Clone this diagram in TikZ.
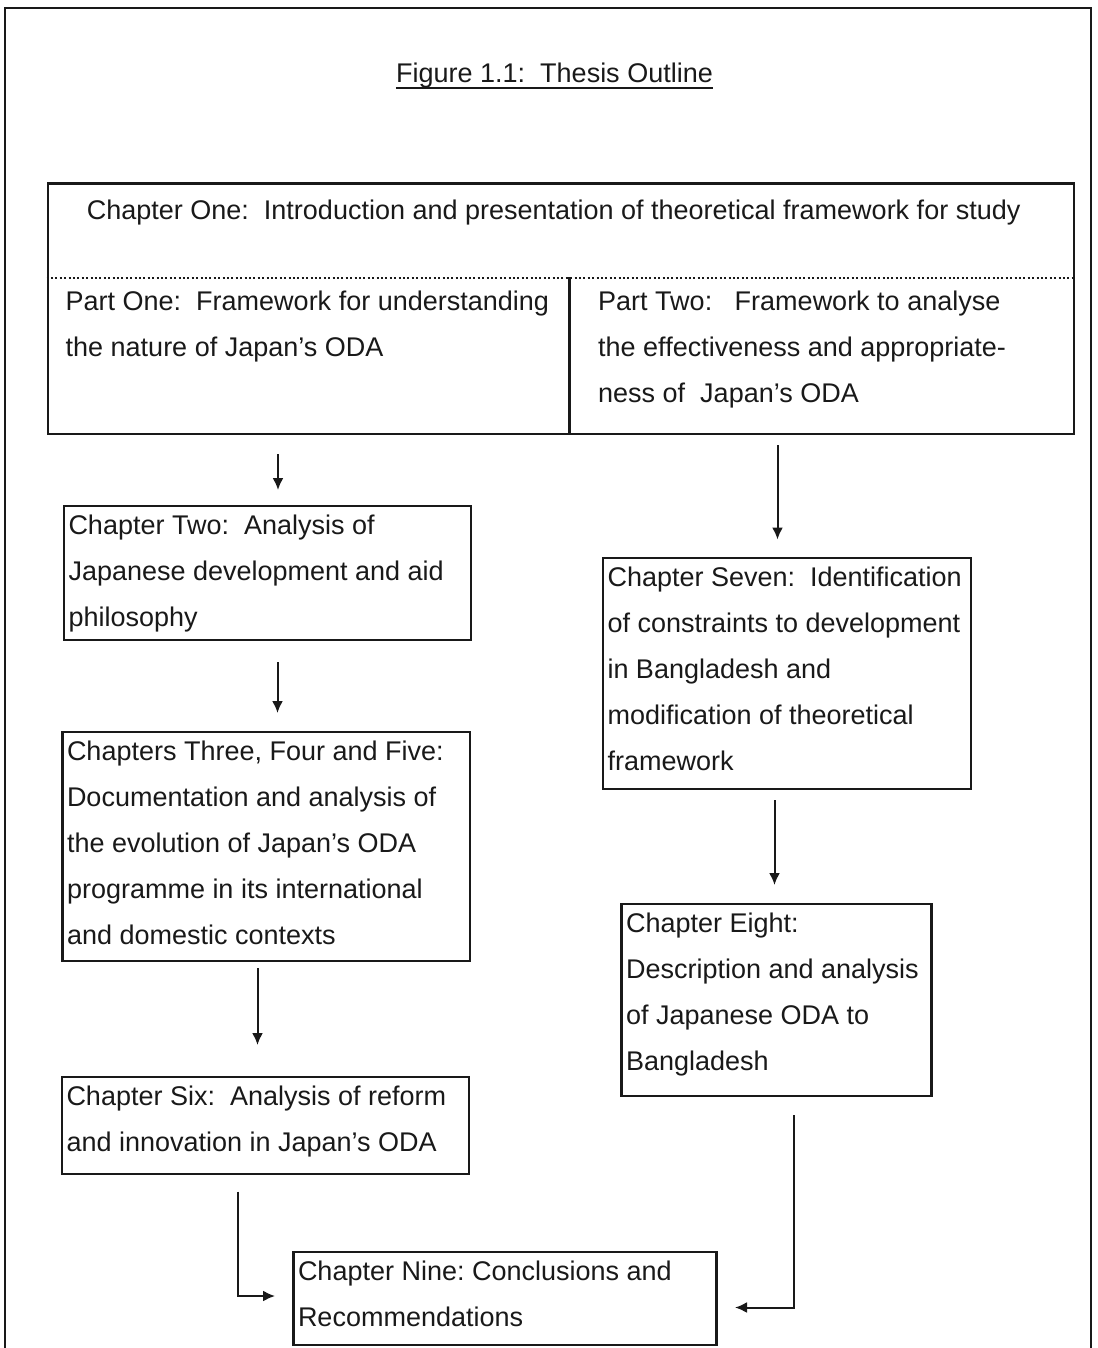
\documentclass[tikz,border=0pt]{standalone}
\usepackage{fontspec}
\setmainfont{Liberation Sans}
\usetikzlibrary{arrows.meta,calc}
\definecolor{ink}{RGB}{25,25,25}
\frenchspacing
\newcommand\mystrut{\rule[-6pt]{0pt}{20pt}}
\newcommand\boxtxt[3]{\parbox[t][#2][t]{#1}{\fontsize{27}{46}\selectfont\mystrut #3}}
\newcommand\ptxt[2]{\parbox[t]{#1}{\fontsize{27}{46}\selectfont\mystrut #2}}
\begin{document}
\begin{tikzpicture}[x=1pt,y=-1pt,
  font=\fontsize{27}{46}\selectfont,
  every node/.style={text=ink},
  framel/.style={draw=ink,line width=2.2pt},
  chbox/.style={draw=ink,line width=2.2pt,inner xsep=4.5pt,inner ysep=9pt,anchor=north west,outer sep=0pt},
  plain/.style={inner sep=0pt,anchor=north west},
  arr/.style={draw=ink,line width=2pt,-{Latex[length=12pt,width=11pt]}},
  sepline/.style={draw=ink,line width=2pt,dash pattern=on 2pt off 2.4pt}]
\useasboundingbox (0,0) rectangle (1097,1348);
% outer frame (open at the bottom edge of the page)
\draw[framel] (5,1348) -- (5,8) -- (1091,8) -- (1091,1348);

% title
\node[inner sep=0pt,anchor=base] (title) at (554.5,83) {Figure 1.1:\ \ Thesis Outline};
\draw[ink,line width=1.6pt] ([yshift=-5pt]title.base west) -- ([yshift=-5pt]title.base east);

% top box
\node[draw=ink,line width=2.2pt,inner sep=0pt,anchor=north west,minimum width=1026pt,minimum height=250.5pt] (tb) at (46.5,182.5) {};
\node[inner sep=0pt,anchor=base west] (ch1) at (86.7,220) {Chapter One:\ \ Introduction and presentation of theoretical framework for study};
\coordinate (dl) at ($(tb.north west)+(0,95)$);
\coordinate (dr) at ($(tb.north east)+(0,95)$);
\draw[sepline] (dl) -- (dr);
\coordinate (div) at (569.5,277);
\draw[ink,line width=2.2pt] (div) -- (div |- tb.south);
\node[plain] (p1) at (65.5,291) {\ptxt{495pt}{\mbox{Part One:\ \ Framework for understanding}\\ \mbox{the nature of Japan’s ODA}}};
\node[plain] (p2) at (598,291) {\ptxt{460pt}{\mbox{Part Two:\ \ \ Framework to analyse}\\ \mbox{the effectiveness and appropriate-}\\ \mbox{ness of\ \ Japan’s ODA}}};

% left column
\node[chbox] (c2) at (64,506) {\boxtxt{398pt}{116pt}{\mbox{Chapter Two:\ \ Analysis of}\\ \mbox{Japanese development and aid}\\ \mbox{philosophy}}};
\node[chbox] (c3) at (62.5,732) {\boxtxt{398.5pt}{211pt}{\mbox{Chapters Three, Four and Five:}\\ \mbox{Documentation and analysis of}\\ \mbox{the evolution of Japan’s ODA}\\ \mbox{programme in its international}\\ \mbox{and domestic contexts}}};
\node[chbox] (c6) at (62,1077) {\boxtxt{398pt}{79pt}{\mbox{Chapter Six:\ \ Analysis of reform}\\ \mbox{and innovation in Japan’s ODA}}};

% right column
\node[chbox] (c7) at (603,558) {\boxtxt{359pt}{213pt}{\mbox{Chapter Seven:\ \ Identification}\\ \mbox{of constraints to development}\\ \mbox{in Bangladesh and}\\ \mbox{modification of theoretical}\\ \mbox{framework}}};
\node[chbox] (c8) at (621.5,904) {\boxtxt{301pt}{174pt}{\mbox{Chapter Eight:}\\ \mbox{Description and analysis}\\ \mbox{of Japanese ODA to}\\ \mbox{Bangladesh}}};

% bottom
\node[chbox] (c9) at (293.5,1252) {\boxtxt{414pt}{75pt}{\mbox{Chapter Nine: Conclusions and}\\ \mbox{Recommendations}}};

% arrow x positions
\coordinate (xa) at (278,0);
\coordinate (xb) at (277.5,0);
\coordinate (xc) at (257.5,0);
\coordinate (xd) at (777.5,0);
\coordinate (xe) at (774.5,0);
\coordinate (xl) at (237.5,0);
\coordinate (xr) at (793.5,0);

\draw[arr,shorten <=19pt,shorten >=16pt] (tb.south -| xa) -- (c2.north -| xa);
\draw[arr,shorten <=22pt,shorten >=19pt] (c2.south -| xb) -- (c3.north -| xb);
\draw[arr,shorten <=7pt,shorten >=32pt] (c3.south -| xc) -- (c6.north -| xc);
\draw[arr,shorten <=10pt,shorten >=18.5pt] (tb.south -| xd) -- (c7.north -| xd);
\draw[arr,shorten <=11pt,shorten >=19pt] (c7.south -| xe) -- (c8.north -| xe);
\draw[arr,shorten <=17.5pt,shorten >=18.5pt] (c6.south -| xl) |- ([yshift=2.5pt]c9.west);
\draw[arr,shorten <=19pt,shorten >=18.5pt] (c8.south -| xr) |- ([yshift=-9pt]c9.east);
\end{tikzpicture}
\end{document}
